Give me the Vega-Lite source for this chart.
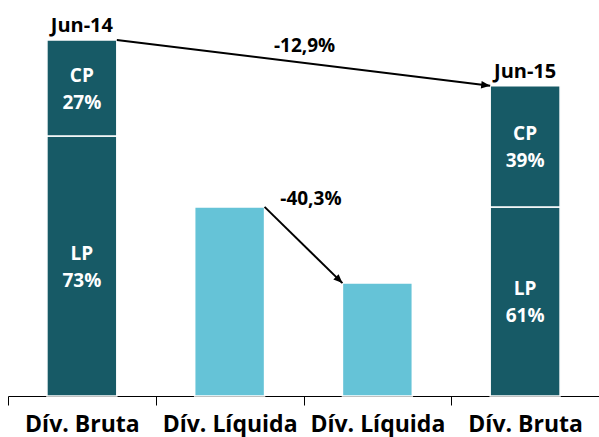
{
  "$schema": "https://vega.github.io/schema/vega-lite/v6.json",
  "width": 591,
  "height": 396,
  "autosize": {"type": "none"},
  "padding": {"left": 8, "top": 0, "right": 0, "bottom": 41},
  "background": "white",
  "config": {"view": {"stroke": null}, "font": "Open Sans"},
  "datasets": {
    "debt": [
      {"cat": "Dív. Bruta Jun-14", "seg": "LP", "value": 73, "pct": "73%", "period": "Jun-14"},
      {"cat": "Dív. Bruta Jun-14", "seg": "CP", "value": 27, "pct": "27%", "period": "Jun-14"},
      {"cat": "Dív. Líquida Jun-14", "seg": "Líquida", "value": 53.1, "pct": "", "period": ""},
      {"cat": "Dív. Líquida Jun-15", "seg": "Líquida", "value": 31.7, "pct": "", "period": ""},
      {"cat": "Dív. Bruta Jun-15", "seg": "LP", "value": 53.1, "pct": "61%", "period": "Jun-15"},
      {"cat": "Dív. Bruta Jun-15", "seg": "CP", "value": 34.0, "pct": "39%", "period": "Jun-15"}
    ],
    "arrows": [
      {"arrow": "a1", "from": "Dív. Bruta Jun-14", "to": "Dív. Bruta Jun-15", "v0": 100, "v1": 87.1, "label": "-12,9%"},
      {"arrow": "a2", "from": "Dív. Líquida Jun-14", "to": "Dív. Líquida Jun-15", "v0": 53.1, "v1": 31.7, "label": "-40,3%"}
    ]
  },
  "encoding": {
    "x": {
      "type": "nominal",
      "scale": {
        "domain": ["Dív. Bruta Jun-14", "Dív. Líquida Jun-14", "Dív. Líquida Jun-15", "Dív. Bruta Jun-15"],
        "paddingInner": 0,
        "paddingOuter": 0
      },
      "axis": {
        "title": null,
        "labelExpr": "isValid(datum.value) ? split(datum.value, ' Jun')[0] : ''",
        "labelAngle": 0,
        "labelFont": "Open Sans",
        "labelFontWeight": "bold",
        "labelFontSize": 23,
        "labelColor": "black",
        "labelPadding": 8,
        "domainColor": "black",
        "domainWidth": 1,
        "tickColor": "black",
        "tickWidth": 1,
        "tickSize": 9,
        "tickBand": "extent"
      }
    }
  },
  "layer": [
    {
      "data": {"name": "debt"},
      "mark": {"type": "bar", "width": {"band": 0.473}, "stroke": "white", "strokeWidth": 1.5},
      "encoding": {
        "x": {"field": "cat", "type": "nominal"},
        "y": {"field": "value", "type": "quantitative", "stack": "zero", "scale": {"domain": [0, 111.2], "nice": false}, "axis": null},
        "color": {"field": "seg", "type": "nominal", "scale": {"domain": ["LP", "CP", "Líquida"], "range": ["#175A66", "#175A66", "#65C3D7"]}, "legend": null},
        "order": {"field": "seg", "sort": "descending"}
      }
    },
    {
      "data": {"name": "debt"},
      "transform": [
        {"stack": "value", "groupby": ["cat"], "sort": [{"field": "seg", "order": "descending"}], "as": ["v0", "v1"]},
        {"filter": "datum.seg != 'Líquida'"},
        {"calculate": "(datum.v0 + datum.v1) / 2", "as": "mid"}
      ],
      "layer": [
        {
          "mark": {"type": "text", "font": "Open Sans", "fontWeight": "bold", "fontSize": 19, "color": "white", "baseline": "alphabetic", "dy": -6},
          "encoding": {
            "x": {"field": "cat", "type": "nominal"},
            "y": {"field": "mid", "type": "quantitative"},
            "text": {"field": "seg"}
          }
        },
        {
          "mark": {"type": "text", "font": "Open Sans", "fontWeight": "bold", "fontSize": 19, "color": "white", "baseline": "alphabetic", "dy": 21},
          "encoding": {
            "x": {"field": "cat", "type": "nominal"},
            "y": {"field": "mid", "type": "quantitative"},
            "text": {"field": "pct"}
          }
        },
        {
          "transform": [{"filter": "datum.seg == 'CP'"}],
          "mark": {"type": "text", "font": "Open Sans", "fontWeight": "bold", "fontSize": 20, "color": "black", "baseline": "alphabetic", "dy": -8},
          "encoding": {
            "x": {"field": "cat", "type": "nominal"},
            "y": {"field": "v1", "type": "quantitative"},
            "text": {"field": "period"}
          }
        }
      ]
    },
    {
      "data": {"name": "arrows"},
      "mark": {"type": "rule", "color": "black", "strokeWidth": 2},
      "encoding": {
        "x": {"field": "from", "type": "nominal", "bandPosition": 0.7365},
        "x2": {"field": "to", "bandPosition": 0.2635},
        "y": {"field": "v0", "type": "quantitative"},
        "y2": {"field": "v1"}
      }
    },
    {
      "data": {"name": "arrows"},
      "mark": {"type": "point", "shape": "M0,0L-1,-0.42L-1,0.42Z", "filled": true, "color": "black", "opacity": 1, "size": 324},
      "encoding": {
        "x": {"field": "to", "type": "nominal", "bandPosition": 0.2635},
        "y": {"field": "v1", "type": "quantitative"},
        "angle": {"condition": {"test": "datum.arrow === 'a2'", "value": 44}, "value": 7}
      }
    },
    {
      "data": {"name": "arrows"},
      "transform": [{"filter": "datum.arrow === 'a1'"}],
      "mark": {"type": "text", "font": "Open Sans", "fontWeight": "bold", "fontSize": 19, "color": "black", "baseline": "alphabetic", "dy": 12},
      "encoding": {
        "x": {"field": "from", "type": "nominal", "bandPosition": 2.007},
        "y": {"field": "v0", "type": "quantitative"},
        "text": {"field": "label"}
      }
    },
    {
      "data": {"name": "arrows"},
      "transform": [{"filter": "datum.arrow === 'a2'"}],
      "mark": {"type": "text", "font": "Open Sans", "fontWeight": "bold", "fontSize": 19, "color": "black", "baseline": "alphabetic", "dy": -2},
      "encoding": {
        "x": {"field": "from", "type": "nominal", "bandPosition": 1.05},
        "y": {"field": "v0", "type": "quantitative"},
        "text": {"field": "label"}
      }
    }
  ]
}
